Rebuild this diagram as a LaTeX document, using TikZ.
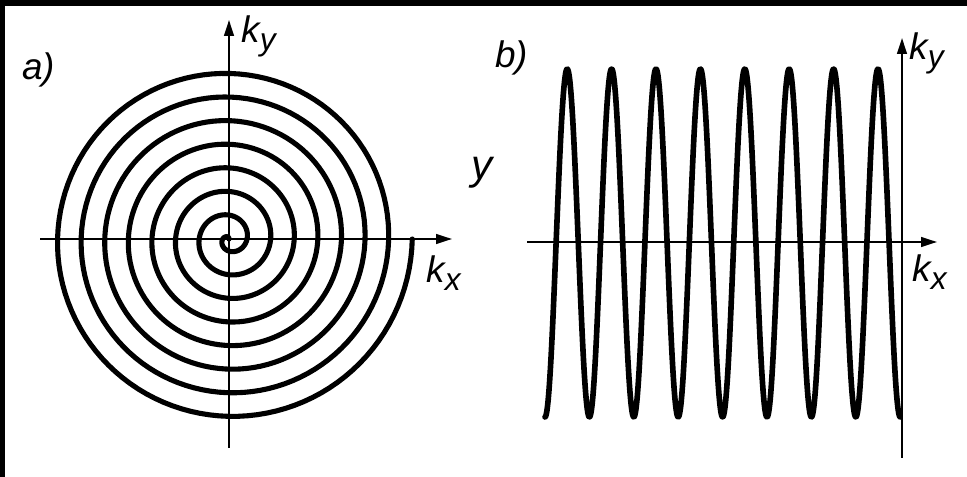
\documentclass[tikz,border=0pt]{standalone}
\usepackage{fontspec}
\setmainfont{Liberation Sans}
\usetikzlibrary{arrows.meta}
\newcommand{\kidx}[1]{\raisebox{-4pt}{\fontsize{18}{20}\selectfont #1}}

\begin{document}
\begin{tikzpicture}[x=0.2mm, y=0.2mm]
        \tikzstyle{axis} = [->, >={Triangle[length=9pt, width=5.5pt]}, line width=1.1pt]
        \tikzstyle{curve} = [line width=2.9pt, line join=round, line cap=round]
        \tikzstyle{lbl} = [font=\fontsize{21}{25}\selectfont\itshape, inner sep=0pt, anchor=base west]
        \useasboundingbox (0,0) rectangle (967,477);
        \fill[black] (0,471) rectangle (967,477);
        \fill[black] (0,0) rectangle (5,477);
        % a) spiral
        \coordinate (Oa) at (229,238);
        \coordinate (axa0) at (40,238);
        \coordinate (axa1) at (452,238);
        \coordinate (aya0) at (229,29);
        \coordinate (aya1) at (229,457);
        \draw[curve, shift={(Oa)}, domain=85:2880, samples=900, variable=\t]
          plot ({0.06556*(\t-85)*cos(\t)}, {0.06556*(\t-85)*sin(\t)});
        \draw[axis] (axa0) -- (axa1);
        \draw[axis] (aya0) -- (aya1);
        \node[lbl] (la) at (22,397) {a)};
        \node[lbl] (kya) at (241,434) {k\kidx{y}};
        \node[lbl] (kxa) at (426,194) {k\kidx{x}};
        % b) zigzag
        \coordinate (axb0) at (527,235);
        \coordinate (axb1) at (937,235);
        \coordinate (ayb0) at (902,19);
        \coordinate (ayb1) at (902,439);
        \draw[curve, line width=3.2pt, domain=545:900.2, samples=900, variable=\s]
          plot (\s, {234-174*cos(8.1081*(\s-545))});
        \draw[axis] (axb0) -- (axb1);
        \draw[axis] (ayb0) -- (ayb1);
        \node[lbl] (lb) at (495,409) {b)};
        \node[lbl, font=\fontsize{24}{28}\selectfont\itshape] (ly) at (471,297) {y};
        \node[lbl] (kyb) at (909,417) {k\kidx{y}};
        \node[lbl] (kxb) at (912,195) {k\kidx{x}};
      \end{tikzpicture}
\end{document}
